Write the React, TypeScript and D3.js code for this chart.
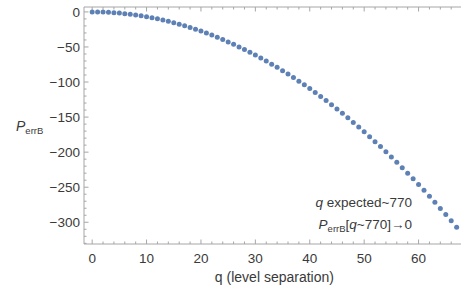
import * as d3 from "d3";

const qValues = [
  0, 1, 2, 3, 4, 5, 6, 7, 8, 9, 10, 11, 12, 13, 14, 15, 16, 17, 18, 19, 20, 21, 22, 23, 24, 25, 26, 27, 28, 29, 30, 31, 32, 33,
  34, 35, 36, 37, 38, 39, 40, 41, 42, 43, 44, 45, 46, 47, 48, 49, 50, 51, 52, 53, 54, 55, 56, 57, 58, 59, 60, 61, 62, 63, 64,
  65, 66, 67,
];
const perrB = [
  0, -0.07, -0.3, -0.6, -1.1, -1.7, -2.5, -3.4, -4.4, -5.5, -6.8, -8.3, -9.8, -11.6, -13.4, -15.4, -17.5, -19.8, -22.2, -24.7,
  -27.4, -30.2, -33.1, -36.2, -39.4, -42.8, -46.2, -49.9, -53.6, -57.5, -61.6, -65.7, -70.0, -74.5, -79.1, -83.8, -88.6, -93.6,
  -98.8, -104.0, -109.4, -115.0, -120.7, -126.5, -132.4, -138.5, -144.7, -151.1, -157.6, -164.2, -171.0, -177.9, -185.0, -192.1,
  -199.5, -206.9, -214.5, -222.2, -230.1, -238.1, -246.2, -254.5, -262.9, -271.5, -280.2, -289.0, -298.0, -307.0,
];
const xTicks = [0, 10, 20, 30, 40, 50, 60];
const yTicks = [0, -50, -100, -150, -200, -250, -300];

const width = 461;
const height = 289;
const left = 84;
const top = 7;
const bottom = 244;

const frameColor = "#a6a6a6";
const textColor = "#3a3a3a";
const dotColor = "#5e81b5";
const font = "Arial, 'Liberation Sans', sans-serif";

export default function App() {
  const x = d3.scaleLinear().domain([-1.5, 67.8]).range([left, width]);
  const y = d3.scaleLinear().domain([-331, 7]).range([bottom, top]);

  // minor ticks between the labelled ones
  const xMinor = d3.range(0, 68, 2).filter((t) => t % 10 !== 0);
  const yMinor = d3.range(0, -331, -10).filter((t) => t % 50 !== 0);

  return (
    <div style={{ position: "absolute", left: 0, top: 0 }}>
      <svg width={width} height={height} style={{ display: "block" }} fontFamily={font}>
        <rect width={width} height={height} fill="white" />
        <line x1={left} x2={width} y1={bottom} y2={bottom} stroke={frameColor} />
        <line x1={left} x2={width} y1={top} y2={top} stroke={frameColor} />
        <line x1={left} x2={left} y1={top} y2={bottom} stroke={frameColor} />

        {xTicks.map((t) => (
          <g key={"xt" + t}>
            <line x1={x(t)} x2={x(t)} y1={bottom} y2={bottom - 4.5} stroke={frameColor} />
            <line x1={x(t)} x2={x(t)} y1={top} y2={top + 4.5} stroke={frameColor} />
            <text x={x(t)} y={bottom + 19} textAnchor="middle" fontSize={13.5} fill={textColor}>
              {t}
            </text>
          </g>
        ))}
        {xMinor.map((t) => (
          <g key={"xm" + t}>
            <line x1={x(t)} x2={x(t)} y1={bottom} y2={bottom - 2.5} stroke={frameColor} />
            <line x1={x(t)} x2={x(t)} y1={top} y2={top + 2.5} stroke={frameColor} />
          </g>
        ))}

        {yTicks.map((t) => (
          <g key={"yt" + t}>
            <line x1={left} x2={left + 4.5} y1={y(t)} y2={y(t)} stroke={frameColor} />
            <text x={left - 4} y={y(t)} dy="0.36em" textAnchor="end" fontSize={13.5} fill={textColor}>
              {t < 0 ? "\u2212" + Math.abs(t) : t}
            </text>
          </g>
        ))}
        {yMinor.map((t) => (
          <line key={"ym" + t} x1={left} x2={left + 2.5} y1={y(t)} y2={y(t)} stroke={frameColor} />
        ))}

        {qValues.map((q, i) => (
          <circle key={q} cx={x(q)} cy={y(perrB[i])} r={2.5} fill={dotColor} />
        ))}

        <text x={16} y={131} fontSize={14} fill={textColor}>
          <tspan fontStyle="italic">P</tspan>
          <tspan fontSize={9.5} dy={3}>errB</tspan>
        </text>
        <text x={x(33.5)} y={282} textAnchor="middle" fontSize={14} fill={textColor}>
          q (level separation)
        </text>

        <text x={412} y={207} textAnchor="end" fontSize={13.5} fill={textColor}>
          <tspan fontStyle="italic">q</tspan> expected~770
        </text>
        <text x={412} y={229} textAnchor="end" fontSize={13.5} fill={textColor}>
          <tspan fontStyle="italic">P</tspan>
          <tspan fontSize={9.5} dy={3}>errB</tspan>
          <tspan dy={-3}>[</tspan>
          <tspan fontStyle="italic">q</tspan>
          <tspan>~770]→0</tspan>
        </text>
      </svg>
    </div>
  );
}
